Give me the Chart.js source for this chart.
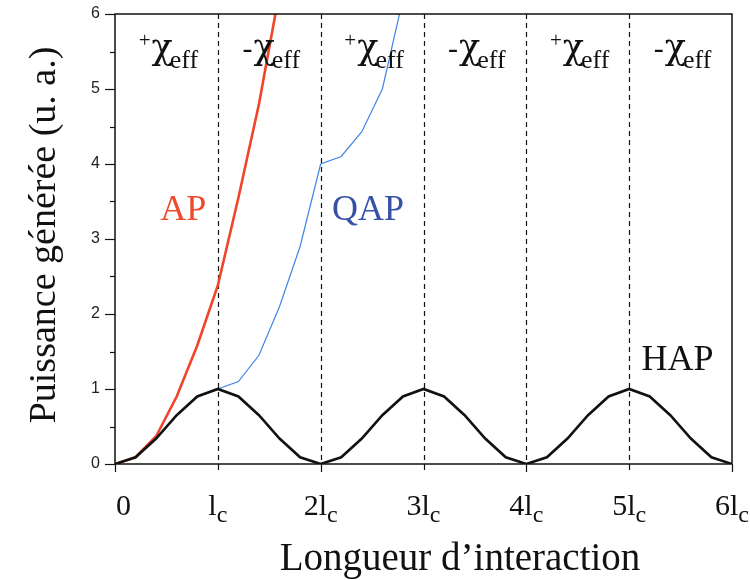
<!DOCTYPE html>
<html>
<head>
<meta charset="utf-8">
<script src="https://cdn.jsdelivr.net/npm/chart.js@4.4.0/dist/chart.umd.min.js"></script>
<style>
  html, body { margin: 0; padding: 0; background: #fff; }
  #wrap { width: 750px; height: 580px; }
</style>
</head>
<body>
<div id="wrap"><canvas id="puissanceChart"></canvas></div>
<script>
// Longueur d'interaction (en unités de l_c)
const xSteps = [0, 0.2, 0.4, 0.6, 0.8, 1.0, 1.2, 1.4, 1.6, 1.8, 2.0, 2.2, 2.4, 2.6, 2.8, 3.0,
                3.2, 3.4, 3.6, 3.8, 4.0, 4.2, 4.4, 4.6, 4.8, 5.0, 5.2, 5.4, 5.6, 5.8, 6.0];
// HAP (pas d'accord de phase)
const hapPower = [0, 0.09, 0.34, 0.65, 0.9, 1, 0.9, 0.65, 0.34, 0.09, 0,
                  0.09, 0.34, 0.65, 0.9, 1, 0.9, 0.65, 0.34, 0.09, 0,
                  0.09, 0.34, 0.65, 0.9, 1, 0.9, 0.65, 0.34, 0.09, 0];
// AP (accord de phase)
const apX = [0, 0.2, 0.4, 0.6, 0.8, 1.0, 1.2, 1.4, 1.6];
const apPower = [0, 0.09, 0.37, 0.9, 1.58, 2.38, 3.55, 4.8, 6.3];
// QAP (quasi-accord de phase)
const qapX = [0, 0.2, 0.4, 0.6, 0.8, 1.0, 1.2, 1.4, 1.6, 1.8, 2.0, 2.2, 2.4, 2.6, 2.8, 3.0];
const qapPower = [0, 0.09, 0.34, 0.65, 0.9, 1, 1.1, 1.45, 2.1, 2.9, 4.0, 4.1, 4.43, 5.0, 6.2, 7.5];

// textes
const regionSigns = ['+', '-', '+', '-', '+', '-'];
const xTickMain = ['0', 'l', '2l', '3l', '4l', '5l', '6l'];
const xTickSub = ['', 'c', 'c', 'c', 'c', 'c', 'c'];
const curveNames = ['AP', 'QAP', 'HAP'];
const xTitle = 'Longueur d\u2019interaction';
const yTitle = 'Puissance g\u00e9n\u00e9r\u00e9e (u. a.)';

const SERIF = '"Liberation Serif", "Times New Roman", serif';
const CHI_FONT = '35px "DejaVu Serif", serif';

function pts(xs, ys) {
  return xs.map((x, i) => ({ x: x, y: ys[i] }));
}

function drawChi(ctx, sign, cx, top) {
  const signFont = sign === '+' ? '21px ' + SERIF : '30px ' + SERIF;
  const signBase = sign === '+' ? top + 33 : top + 44;
  ctx.font = signFont;
  const ws = ctx.measureText(sign).width;
  ctx.font = CHI_FONT;
  const wc = ctx.measureText('\u03c7').width;
  ctx.font = '26px ' + SERIF;
  const we = ctx.measureText('eff').width;
  const total = ws + 1 + wc - 3 + we;
  let x = cx - total / 2;
  ctx.textAlign = 'left';
  ctx.textBaseline = 'alphabetic';
  ctx.font = signFont;
  ctx.fillText(sign, x, signBase);
  x += ws + 1;
  ctx.font = CHI_FONT;
  ctx.fillText('\u03c7', x, top + 45);
  x += wc - 3;
  ctx.font = '26px ' + SERIF;
  ctx.fillText('eff', x, top + 54);
}

const decor = {
  id: 'decor',
  beforeDatasetsDraw(chart) {
    const { ctx, chartArea: a, scales: { x } } = chart;
    ctx.save();
    ctx.strokeStyle = '#111';
    ctx.lineWidth = 1.2;
    ctx.setLineDash([5, 4]);
    for (let v = 1; v <= 5; v++) {
      const px = Math.round(x.getPixelForValue(v)) + 0.5;
      ctx.beginPath();
      ctx.moveTo(px, a.top);
      ctx.lineTo(px, a.bottom);
      ctx.stroke();
    }
    ctx.restore();
  },
  afterDraw(chart) {
    const { ctx, chartArea: a, scales: { x, y } } = chart;
    ctx.save();
    // cadre
    ctx.strokeStyle = '#111';
    ctx.lineWidth = 1.5;
    ctx.strokeRect(a.left, a.top, a.right - a.left, a.bottom - a.top);

    // graduations
    ctx.lineWidth = 1.2;
    y.ticks.forEach(t => {
      const py = Math.round(y.getPixelForValue(t.value)) + 0.5;
      const len = Number.isInteger(t.value) ? 10 : 5;
      ctx.beginPath();
      ctx.moveTo(a.left - len, py);
      ctx.lineTo(a.left, py);
      ctx.stroke();
    });
    x.ticks.forEach(t => {
      const px = Math.round(x.getPixelForValue(t.value)) + 0.5;
      const len = t.value % 2 === 0 ? 8 : 6;
      ctx.beginPath();
      ctx.moveTo(px, a.bottom);
      ctx.lineTo(px, a.bottom + len);
      ctx.stroke();
    });

    // étiquettes de l'axe x (avec indice c)
    ctx.fillStyle = '#111';
    ctx.textBaseline = 'alphabetic';
    xTickMain.forEach((lab, i) => {
      const px = x.getPixelForValue(i);
      ctx.font = '30px ' + SERIF;
      const wm = ctx.measureText(lab).width;
      ctx.font = '24px ' + SERIF;
      const wsub = xTickSub[i] ? ctx.measureText(xTickSub[i]).width : 0;
      let left = px - (wm + wsub) / 2;
      if (i === 0) left = px + 1;
      ctx.textAlign = 'left';
      ctx.font = '30px ' + SERIF;
      ctx.fillText(lab, left, a.bottom + 51);
      if (xTickSub[i]) {
        ctx.font = '24px ' + SERIF;
        ctx.fillText(xTickSub[i], left + wm, a.bottom + 58);
      }
    });

    // +χeff / -χeff
    regionSigns.forEach((s, i) => {
      drawChi(ctx, s, x.getPixelForValue(i + 0.5) + 2, a.top);
    });

    // noms des courbes
    ctx.textAlign = 'left';
    ctx.font = '36px ' + SERIF;
    ctx.fillStyle = '#ee4a2e';
    ctx.fillText(curveNames[0], x.getPixelForValue(0.44), y.getPixelForValue(3.25));
    ctx.fillStyle = '#3552a8';
    ctx.fillText(curveNames[1], x.getPixelForValue(2.11), y.getPixelForValue(3.25));
    ctx.fillStyle = '#111';
    ctx.fillText(curveNames[2], x.getPixelForValue(5.12), y.getPixelForValue(1.26));

    // titres des axes
    ctx.font = '39px ' + SERIF;
    ctx.textAlign = 'center';
    ctx.fillText(xTitle, 460, 570);
    ctx.save();
    ctx.translate(55, 235);
    ctx.rotate(-Math.PI / 2);
    ctx.font = '38px ' + SERIF;
    ctx.fillText(yTitle, 0, 0);
    ctx.restore();
    ctx.restore();
  }
};

const chart = new Chart(document.getElementById('puissanceChart'), {
  type: 'line',
  data: {
    datasets: [
      {
        label: 'HAP',
        data: pts(xSteps, hapPower),
        borderColor: '#111',
        borderWidth: 2.6,
        pointRadius: 0,
        tension: 0
      },
      {
        label: 'QAP',
        data: pts(qapX, qapPower),
        borderColor: '#3f84e5',
        borderWidth: 1.2,
        pointRadius: 0,
        tension: 0
      },
      {
        label: 'AP',
        data: pts(apX, apPower),
        borderColor: '#f0452b',
        borderWidth: 2.6,
        pointRadius: 0,
        tension: 0
      }
    ]
  },
  options: {
    responsive: true,
    maintainAspectRatio: false,
    animation: false,
    layout: { padding: { top: 14, right: 18, left: 0, bottom: 0 } },
    plugins: { legend: { display: false }, tooltip: { enabled: false } },
    scales: {
      x: {
        type: 'linear',
        min: 0,
        max: 6,
        ticks: { display: false, stepSize: 1 },
        grid: { display: false },
        border: { display: false },
        afterFit: s => { s.height = 116; s.paddingLeft = 0; s.paddingRight = 0; }
      },
      y: {
        min: 0,
        max: 6,
        ticks: {
          stepSize: 0.5,
          autoSkip: false,
          padding: 5,
          color: '#222',
          font: { family: '"Liberation Sans", Arial, sans-serif', size: 16 },
          callback: v => Number.isInteger(v) ? v : ''
        },
        grid: { display: false, tickLength: 10 },
        border: { display: false },
        afterFit: s => { s.width = 115; s.paddingTop = 0; s.paddingBottom = 0; }
      }
    }
  },
  plugins: [decor]
});
</script>
</body>
</html>
